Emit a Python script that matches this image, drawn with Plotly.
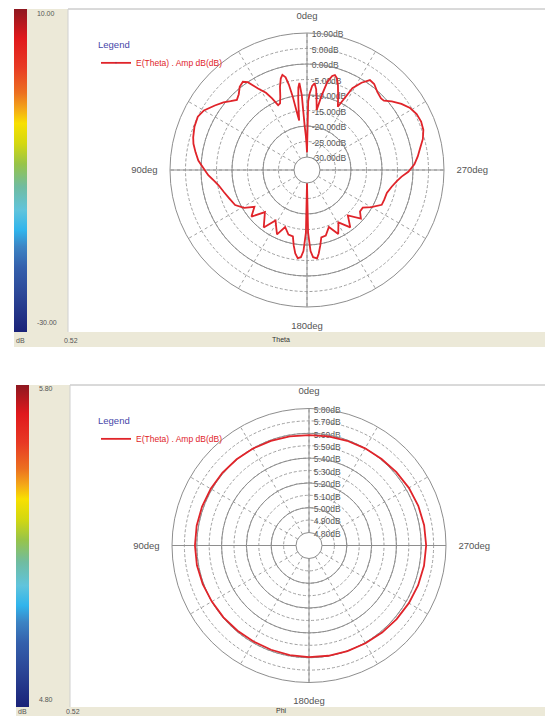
import plotly.graph_objects as go

# ---------------- data ----------------
theta_deg = [0, 1, 2, 3, 4, 5, 6, 7, 8, 9, 10, 11, 12, 13, 14.5, 16, 18, 20, 22, 24, 26, 28,
             31, 34, 36, 39, 42, 45, 48, 51, 55, 60, 64, 69, 74, 77, 81, 85, 89, 93, 97, 100,
             105, 110, 116, 121, 125, 130, 135, 143, 148, 155, 159, 164, 168, 170, 172, 174,
             176, 177.5, 179, 180, 181, 182.5, 184, 186.5, 188, 190, 192, 196, 201, 206, 211,
             217, 222, 228, 232, 236, 240, 245, 249, 254, 259, 263, 266, 269, 273, 277, 281,
             285, 289, 293, 297, 301, 305, 309, 312, 314, 318, 322, 325, 328, 331, 334, 337,
             340, 342, 343.6, 345, 347, 349, 350.8, 352, 353.5, 355, 356.5, 358, 359, 360]
theta_db = [-28.5, -26, -23, -20, -10, -6, -7.5, -11, -15, -18, -15, -10, -6, -3.5, -2.5, -3.5,
            -6, -9, -11, -11.3, -8.5, -6, -3.5, 0, 1.0, 0.3, -1.3, -2.2, -1.0, 0.5, 2.1, 4.2,
            5.0, 4.7, 4.0, 3.4, 2.2, 1.0, -0.8, -2.3, -4.2, -5.3, -6.5, -7.5, -8.4, -10.5,
            -13.5, -10.8, -15.0, -11.0, -15.0, -11.3, -14.5, -12.5, -12.3, -9.5, -7, -5.6,
            -6, -8, -14, -30, -14, -8, -6, -5.5, -7, -9.5, -12, -12.2, -14.5, -11.2, -14.5,
            -11, -14.5, -10.8, -12.5, -12.5, -10.2, -7.6, -7.5, -7.4, -6.3, -5, -3.6, -1.5,
            0.5, 1.8, 3, 4.5, 5.5, 5.8, 5.5, 4.6, 3, 1, -0.8, -1, -0.3, 1.0, 1.2, -1, -4,
            -11.5, -8.5, -5, -3, -2.3, -2.8, -5, -10, -14.6, -12, -8, -6.1, -7, -9.5, -12, -28.5]

phi_deg = [0, 10, 20, 30, 40, 50, 60, 70, 80, 90, 100, 110, 120, 130, 140, 150, 160, 170, 180,
           190, 200, 210, 220, 230, 240, 250, 260, 270, 280, 290, 300, 310, 320, 330, 340, 350,
           360]
phi_db = [5.585, 5.588, 5.593, 5.598, 5.603, 5.607, 5.61, 5.613, 5.615, 5.615, 5.613, 5.607,
          5.60, 5.596, 5.592, 5.59, 5.59, 5.592, 5.595, 5.598, 5.602, 5.606, 5.612, 5.618,
          5.625, 5.632, 5.637, 5.64, 5.638, 5.633, 5.625, 5.615, 5.606, 5.60, 5.594, 5.589,
          5.585]

theta_r_ticks = [-30, -25, -20, -15, -10, -5, 0, 5, 10]
theta_r_major = [-30, -20, -10, 0, 10]
phi_r_ticks = [4.8, 4.9, 5.0, 5.1, 5.2, 5.3, 5.4, 5.5, 5.6, 5.7, 5.8]
phi_r_major = [4.8, 5.0, 5.2, 5.4, 5.6, 5.8]
ang_minor = [0, 30, 60, 90, 120, 150, 180, 210, 240, 270, 300, 330]
ang_major = [0, 90, 180, 270]
ang_labels = ["0deg", "90deg", "180deg", "270deg"]
theta_scale = [-30, 10]
theta_scale_text = ["-30.00", "10.00"]
phi_scale = [4.8, 5.8]
phi_scale_text = ["4.80", "5.80"]
trace_name = "E(Theta) . Amp dB(dB)"

# ---------------- styling ----------------
W, H = 545, 716
FONT = "Liberation Sans, Arial, sans-serif"
RED = "#e0242a"
GRID = "#8e8e8e"
GRID_D = "#a0a0a0"
BEIGE = "#ece9d8"
TXT = "#555555"

jet = [[0.0, "#1a2278"], [0.12, "#2c4898"], [0.20, "#3460ac"], [0.264, "#3c84c4"],
       [0.315, "#30b4ec"], [0.377, "#60c4dc"], [0.45, "#70bca0"], [0.52, "#98c448"],
       [0.584, "#d4d810"], [0.646, "#f8e000"], [0.69, "#f4a818"], [0.74, "#ec7020"],
       [0.82, "#e83a24"], [0.91, "#e0181c"], [1.0, "#8e1820"]]


def px(x):
    return x / W


def py(y):
    return 1 - y / H


fig = go.Figure()


def panel(cx, cy, R, hole_px, thetas, vals, rticks, rmajor, rng, scale, scale_txt,
          pa, pb, legend_name, bar_x, bar_top, bar_bot, inset_top, inset_bot):
    dom_x = [px(cx - R), px(cx + R)]
    dom_y = [py(cy + R), py(cy - R)]
    hole = hole_px / R
    rtext = [f"{v:.2f}dB" for v in rticks]
    fig.update_layout(**{
        pa: dict(
            domain=dict(x=dom_x, y=dom_y), hole=hole, bgcolor="white",
            radialaxis=dict(range=rng, tickvals=rticks, ticktext=rtext,
                            angle=90, side="clockwise", showline=False, gridcolor=GRID_D,
                            griddash="3px,2px", gridwidth=1, ticks="",
                            tickfont=dict(family=FONT, size=8.5, color=TXT)),
            angularaxis=dict(rotation=90, direction="counterclockwise", tickvals=ang_minor,
                             showticklabels=False, ticks="", griddash="3px,3px",
                             gridcolor=GRID_D, showline=False),
        ),
        pb: dict(
            domain=dict(x=dom_x, y=dom_y), hole=hole, bgcolor="rgba(0,0,0,0)",
            radialaxis=dict(range=rng, tickvals=rmajor, showticklabels=False, showline=False,
                            gridcolor=GRID, gridwidth=1, ticks="", angle=90),
            angularaxis=dict(rotation=90, direction="counterclockwise", tickvals=ang_major,
                             ticktext=ang_labels, gridcolor=GRID, showline=True,
                             linecolor=GRID, linewidth=1, ticks="outside", ticklen=10,
                             tickcolor="rgba(0,0,0,0)",
                             tickfont=dict(family=FONT, size=9.5, color=TXT)),
        ),
    })
    # invisible companion trace so the dashed grid layer is rendered
    fig.add_trace(go.Scatterpolar(
        theta=thetas, r=vals, mode="lines", subplot=pa, showlegend=False,
        line=dict(color="rgba(0,0,0,0)", width=0), hoverinfo="skip"))
    span = scale[1] - scale[0]
    bar_len = bar_bot - bar_top
    cb_ticks = [scale[0] + span * inset_bot / bar_len, scale[1] - span * inset_top / bar_len]
    fig.add_trace(go.Scatterpolar(
        theta=thetas, r=vals, mode="lines+markers", name=trace_name,
        subplot=pb, legend=legend_name,
        line=dict(color=RED, width=1.8),
        marker=dict(size=2, opacity=0, color=vals, colorscale=jet, cmin=scale[0], cmax=scale[1],
                    showscale=True,
                    colorbar=dict(x=px(bar_x), xanchor="left", xpad=0, ypad=0,
                                  y=py((bar_top + bar_bot) / 2), yanchor="middle",
                                  lenmode="pixels", len=bar_len, thickness=13,
                                  outlinewidth=0, tickvals=cb_ticks, ticktext=scale_txt,
                                  ticks="outside", ticklen=9, tickcolor="rgba(0,0,0,0)",
                                  tickfont=dict(family=FONT, size=7, color=TXT))),
        showlegend=True,
    ))


panel(307, 170, 137, 13, theta_deg, theta_db, theta_r_ticks, theta_r_major, [-30, 10],
      theta_scale, theta_scale_text, "polar", "polar2", "legend", 14, 9, 332, 5, 9)
panel(309, 545.5, 137, 13, phi_deg, phi_db, phi_r_ticks, phi_r_major, [4.8, 5.8],
      phi_scale, phi_scale_text, "polar3", "polar4", "legend2", 16, 385, 707, 4, 7)

shapes = []
annos = []
for (bx, top, bot, xlab) in [(14, 9, 332, "Theta"), (16, 385, 707, "Phi")]:
    shapes.append(dict(type="rect", xref="paper", yref="paper", layer="below",
                       x0=px(bx + 13), x1=px(bx + 54), y0=py(bot), y1=py(top),
                       fillcolor=BEIGE, line=dict(width=0)))
    shapes.append(dict(type="rect", xref="paper", yref="paper", layer="below",
                       x0=px(bx), x1=1, y0=py(min(bot + 15, H)), y1=py(bot),
                       fillcolor=BEIGE, line=dict(width=0)))
    shapes.append(dict(type="line", xref="paper", yref="paper", layer="below",
                       x0=px(bx + 54), x1=1, y0=py(top), y1=py(top),
                       line=dict(color="#b4b4b4", width=1)))
    shapes.append(dict(type="line", xref="paper", yref="paper", layer="below",
                       x0=px(bx + 54), x1=px(bx + 54), y0=py(bot), y1=py(top),
                       line=dict(color="#d0d0d0", width=1)))
    ty = min(bot + 8, H - 5)
    annos.append(dict(text="dB", x=px(bx), y=py(ty), xref="paper", yref="paper",
                      xanchor="left", yanchor="middle", showarrow=False,
                      font=dict(family=FONT, size=7, color=TXT)))
    annos.append(dict(text="0.52", x=px(bx + 48), y=py(ty), xref="paper", yref="paper",
                      xanchor="left", yanchor="middle", showarrow=False,
                      font=dict(family=FONT, size=7, color=TXT)))
    annos.append(dict(text=xlab, x=px(281), y=py(ty - 1), xref="paper", yref="paper",
                      xanchor="center", yanchor="middle", showarrow=False,
                      font=dict(family=FONT, size=7, color="#333333")))

legend_style = dict(xanchor="left", yanchor="top", bgcolor="rgba(0,0,0,0)", borderwidth=0,
                    title=dict(text="Legend", font=dict(family=FONT, size=9.5, color="#4646a8")),
                    font=dict(family=FONT, size=8.5, color=RED), itemwidth=30)

fig.update_layout(
    width=W, height=H, margin=dict(l=0, r=0, t=0, b=0, autoexpand=False),
    paper_bgcolor="white", plot_bgcolor="white",
    shapes=shapes, annotations=annos,
    legend=dict(x=px(96), y=py(36), **legend_style),
    legend2=dict(x=px(96), y=py(412), **legend_style),
)

fig.write_html("out.html", config={"displayModeBar": False},
               post_script="document.body.style.margin='0px';document.body.style.overflow='hidden';")
